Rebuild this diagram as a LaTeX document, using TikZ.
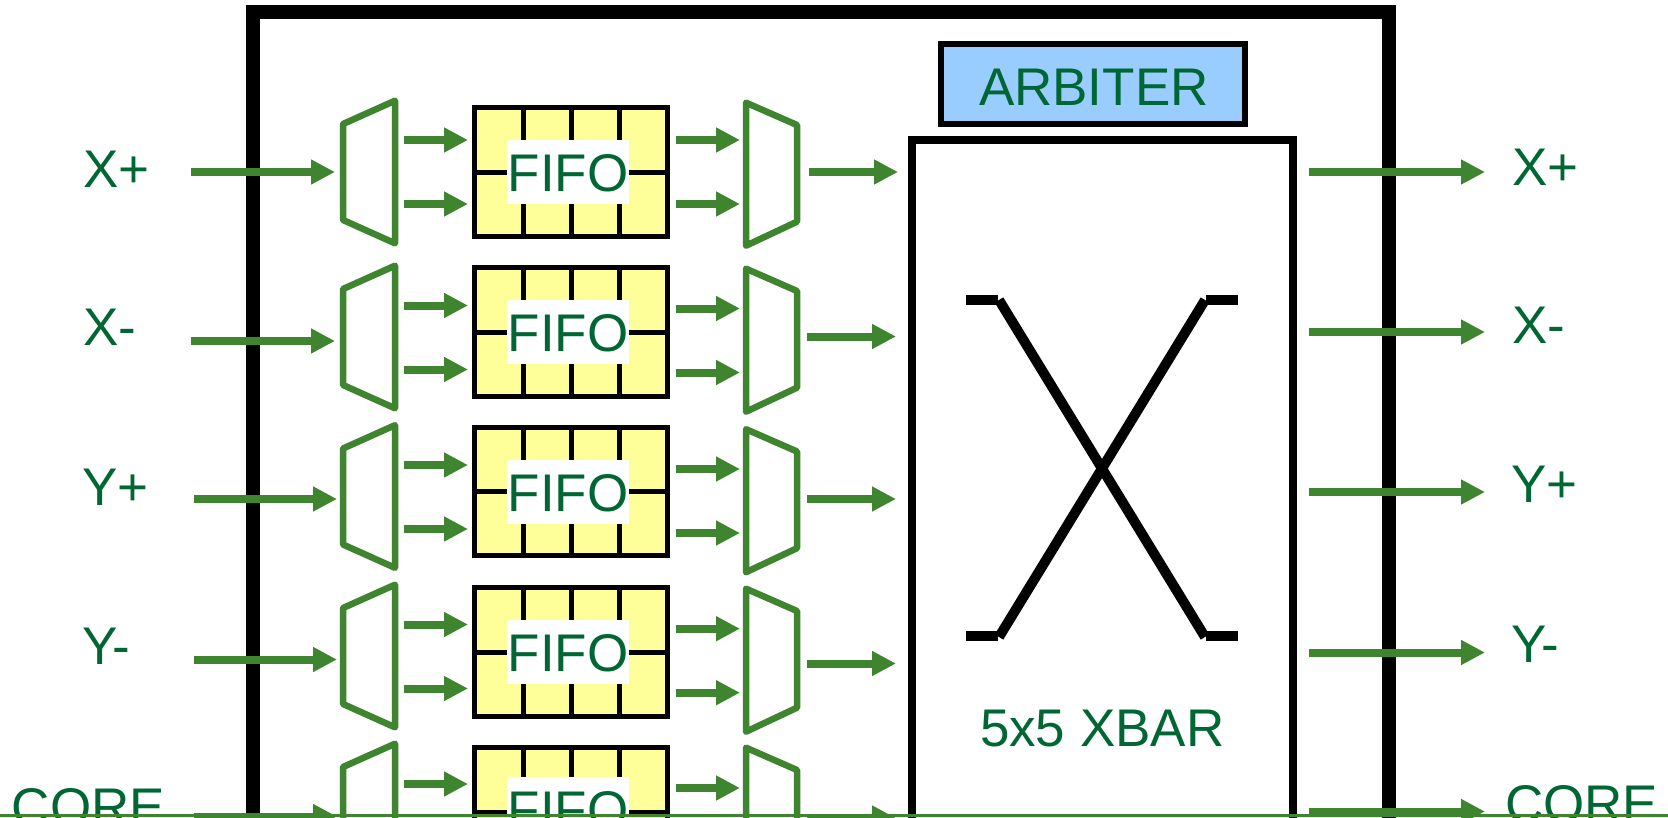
\documentclass[tikz,border=0pt]{standalone}
\usepackage{fontspec}
\setmainfont{Liberation Sans}
\usetikzlibrary{arrows.meta}
\definecolor{wire}{HTML}{3F8530}
\definecolor{txt}{HTML}{006633}
\definecolor{fifoY}{HTML}{FFFF99}
\definecolor{arbB}{HTML}{99CCFF}
\tikzset{
  flow/.style={draw=wire,line width=8pt,-{Triangle[length=24pt,width=23.5pt,fill=wire]},shorten >=0pt},
  muxshape/.style={draw=wire,line width=6.5pt,line join=round,fill=white},
  lbl/.style={text=txt,inner sep=0pt,outer sep=0pt,anchor=base west,font=\fontsize{53}{53}\selectfont},
  fifobox/.style={draw=black,line width=5pt,fill=fifoY,minimum width=193pt,minimum height=128.5pt,inner sep=0pt},
  fifotext/.style={fill=white,text=txt,inner sep=0pt,outer sep=0pt,anchor=base,minimum width=122pt,text height=51.7pt,text depth=12pt,font=\fontsize{53}{53}\selectfont},
  cell/.style={draw=black,line width=5pt},
  xline/.style={draw=black,line width=10pt},
  tick/.style={draw=black,line width=10pt}
}
\begin{document}
\begin{tikzpicture}[x=1pt,y=-1pt]
\useasboundingbox (0,0) rectangle (1668,817);
\clip (0,0) rectangle (1668,817);
\fill[white] (0,0) rectangle (1668,817);
% outer frame
\draw[black,line width=13.5pt,miter limit=10] (253,830) -- (253,12) -- (1389,12) -- (1389,830);
% arbiter and crossbar
\node[draw=black,line width=5.5pt,fill=arbB,minimum width=304pt,minimum height=80pt,inner sep=0pt] (arb) at (1093,84) {};
\node[lbl] (arbt) at (979,105) {ARBITER};
\draw[black,line width=8pt,fill=white] (912,830) -- (912,140) -- (1293,140) -- (1293,830);
\coordinate (xa) at (999,300); \coordinate (xb) at (1205,637);
\coordinate (xc) at (1205,300); \coordinate (xd) at (999,637);
\draw[xline] (xa) -- (xb);
\draw[xline] (xc) -- (xd);
\coordinate (ta) at (966,300); \coordinate (tb) at (998,300);
\coordinate (tc) at (1206,300); \coordinate (td) at (1238,300);
\coordinate (te) at (966,636); \coordinate (tf) at (998,636);
\coordinate (tg) at (1206,636); \coordinate (th) at (1238,636);
\draw[tick] (ta) -- (tb);
\draw[tick] (tc) -- (td);
\draw[tick] (te) -- (tf);
\draw[tick] (tg) -- (th);
\node[lbl] (xbart) at (980,746) {5x5 XBAR};
% rows: id / fifo box / fifo text / left mux / left small arrows / right small arrows / right mux
\foreach \r/\fb/\ft/\lm/\la/\ra/\rm in {
  1/0/0/0/0/0/0,
  2/160/160/165/165.5/168.5/166,
  3/319.5/320/324.5/325/329/326.5,
  4/480/480/484/484.5/488.7/486,
  5/640/637/643/644/648/645}{
  % left mux
  \draw[muxshape] (395,100.7+\lm) -- (343,124+\lm) -- (343,220+\lm) -- (395,243.3+\lm) -- cycle;
  % right mux
  \draw[muxshape] (746,102.7+\rm) -- (797,125+\rm) -- (797,221.7+\rm) -- (746,245.7+\rm) -- cycle;
  % fifo
  \node[fifobox] (fifo\r) at (571,171.75+\fb) {};
  \foreach \cx in {523,571,619}{
    \coordinate (ca) at (\cx,107.5+\fb); \coordinate (cb) at (\cx,236+\fb);
    \draw[cell] (ca) -- (cb);
  }
  \coordinate (cc) at (474.5,172+\fb); \coordinate (cd) at (667.5,172+\fb);
  \draw[cell] (cc) -- (cd);
  \node[fifotext] (ft\r) at (568,191.7+\ft) {FIFO};
  % small arrows
  \coordinate (las\r) at (404,140+\la); \coordinate (lae\r) at (468,140+\la);
  \coordinate (lbs\r) at (404,204+\la); \coordinate (lbe\r) at (468,204+\la);
  \coordinate (ras\r) at (676,140+\ra); \coordinate (rae\r) at (740,140+\ra);
  \coordinate (rbs\r) at (676,204+\ra); \coordinate (rbe\r) at (740,204+\ra);
  \draw[flow] (las\r) -- (lae\r);
  \draw[flow] (lbs\r) -- (lbe\r);
  \draw[flow] (ras\r) -- (rae\r);
  \draw[flow] (rbs\r) -- (rbe\r);
}
% input arrows
\foreach \r/\xs/\xe/\yy in {1/191/335/172,2/191/335/341,3/194/337/499,4/194/337/659.5,5/194/337/816.5}{
  \coordinate (is\r) at (\xs,\yy); \coordinate (ie\r) at (\xe,\yy);
  \draw[flow] (is\r) -- (ie\r);
}
% mux to crossbar arrows
\foreach \r/\xs/\xe/\yy in {1/809/898/172,2/807/896/336.5,3/807/896/499,4/807/896/663.5,5/807/896/818}{
  \coordinate (os\r) at (\xs,\yy); \coordinate (oe\r) at (\xe,\yy);
  \draw[flow] (os\r) -- (oe\r);
}
% output arrows
\foreach \r/\yy in {1/172,2/332,3/492,4/652.5,5/811.5}{
  \coordinate (ps\r) at (1309,\yy); \coordinate (pe\r) at (1485,\yy);
  \draw[flow] (ps\r) -- (pe\r);
}
% labels
\node[lbl] (lx1) at (83,187.7) {X+};
\node[lbl] (lx2) at (83,345.3) {X-};
\node[lbl] (lx3) at (82,505) {Y+};
\node[lbl] (lx4) at (82,664) {Y-};
\node[lbl] (lx5) at (12,825) {CORE};
\node[lbl] (rx1) at (1512,185) {X+};
\node[lbl] (rx2) at (1512,343.3) {X-};
\node[lbl] (rx3) at (1511,502) {Y+};
\node[lbl] (rx4) at (1511,662) {Y-};
\node[lbl] (rx5) at (1505,822) {CORE};
% bottom edge line
\fill[wire] (0,813.5) rectangle (1668,817);
\end{tikzpicture}
\end{document}
